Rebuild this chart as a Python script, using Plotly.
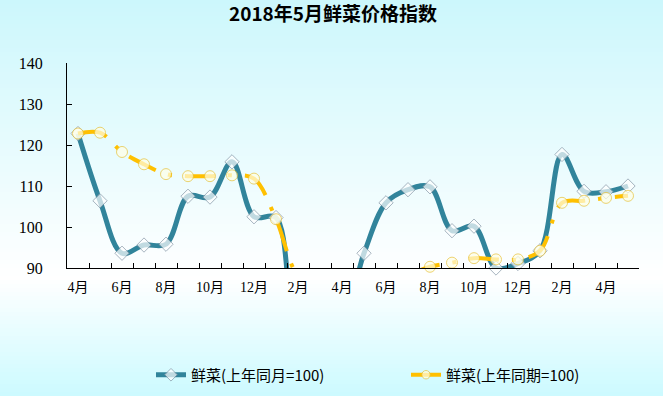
import plotly.graph_objects as go

# ---------------- data ----------------
months = ["2016-04", "2016-05", "2016-06", "2016-07", "2016-08", "2016-09", "2016-10",
          "2016-11", "2016-12", "2017-01", "2017-02", "2017-03", "2017-04", "2017-05",
          "2017-06", "2017-07", "2017-08", "2017-09", "2017-10", "2017-11", "2017-12",
          "2018-01", "2018-02", "2018-03", "2018-04", "2018-05"]
month_labels = ["4月", "5月", "6月", "7月", "8月", "9月", "10月", "11月", "12月", "1月", "2月",
                "3月", "4月", "5月", "6月", "7月", "8月", "9月", "10月", "11月", "12月", "1月",
                "2月", "3月", "4月", "5月"]
# 鲜菜(上年同月=100)
index_same_month = [122.8, 106.4, 93.6, 95.6, 95.8, 107.5, 107.3, 115.9, 102.5, 102.3, 76.0,
                    77.7, 77.5, 93.6, 105.9, 109.1, 109.8, 99.1, 100.2, 90.0, 91.1, 94.2,
                    117.7, 108.7, 108.6, 110.0]
# 鲜菜(上年同期=100)
index_same_period = [122.8, 123.0, 118.3, 115.3, 112.9, 112.4, 112.4, 112.6, 111.8, 101.9, 88.0,
                     84.5, 83.0, 84.8, 86.5, 88.3, 90.3, 91.3, 92.4, 92.1, 92.1, 94.2,
                     105.9, 106.4, 107.1, 107.6]
y_ticks = [90, 100, 110, 120, 130, 140]
y_range = [90, 140]
title_text = "2018年5月鲜菜价格指数"
name_month = "鲜菜(上年同月=100)"
name_period = "鲜菜(上年同期=100)"

# ---------------- layout constants ----------------
W, H = 663, 396
ML, MR, MT, MB = 67, 24, 63, 128
PW, PH = W - ML - MR, H - MT - MB

tick_text = [lab if i % 2 == 0 else "" for i, lab in enumerate(month_labels)]


def msize(vals, s):
    return [s if v >= y_range[0] - 0.2 else 0 for v in vals]


fig = go.Figure()
fig.add_trace(go.Scatter(
    x=months, y=index_same_month, name=name_month, mode="lines+markers",
    line=dict(color="#31849B", width=5, shape="spline", smoothing=1.0),
    marker=dict(symbol="diamond", size=msize(index_same_month, 11), color="white",
                line=dict(color="#8596A6", width=1)),
    cliponaxis=False,
))
fig.add_trace(go.Scatter(
    x=months, y=index_same_period, name=name_period, mode="lines+markers",
    line=dict(color="#FFC000", width=4, shape="spline", smoothing=1.0,
              dash="30px,13px,4px,13px"),
    marker=dict(symbol="circle", size=msize(index_same_period, 11), color="#FFFFE6",
                line=dict(color="#E9C237", width=1)),
    cliponaxis=False,
))

# background gradient (cyan -> white -> cyan), drawn as thin horizontal bands
shapes = []
N = 99
top = (204, 247, 252)
bot = (204, 250, 255)
ws = 0.70
for i in range(N):
    p0 = i * H / N
    p1 = (i + 1) * H / N + 0.6
    t = (i + 0.5) / N
    if t < ws:
        f = t / ws
        c = tuple(int(round(top[k] + (255 - top[k]) * f)) for k in range(3))
    else:
        f = (t - ws) / (1 - ws)
        c = tuple(int(round(255 + (bot[k] - 255) * f)) for k in range(3))
    shapes.append(dict(
        type="rect", xref="paper", yref="paper", layer="below",
        x0=-ML / PW, x1=(W - ML) / PW,
        y0=(MT + PH - p1) / PH, y1=(MT + PH - p0) / PH,
        fillcolor="rgb(%d,%d,%d)" % c, line=dict(width=0),
    ))

fig.update_layout(
    width=W, height=H,
    margin=dict(l=ML, r=MR, t=MT, b=MB, autoexpand=False),
    paper_bgcolor="white", plot_bgcolor="rgba(0,0,0,0)",
    shapes=shapes,
    title=dict(text="<b>" + title_text + "</b>", x=333 / W, xref="container",
               xanchor="center", y=1 - 14 / H, yanchor="middle", yref="container",
               font=dict(family="Noto Sans CJK SC", size=19, color="#000000")),
    xaxis=dict(type="category", range=[-0.5, len(months) - 0.5],
               tickmode="array", tickvals=months, ticktext=tick_text,
               tickson="boundaries", ticks="inside", ticklen=5, tickwidth=1,
               tickcolor="#000000", ticklabelstandoff=6,
               showline=True, linecolor="#000000", linewidth=1, showgrid=False,
               zeroline=False, tickangle=0,
               tickfont=dict(family="Liberation Serif, Noto Sans CJK SC", size=14,
                             color="#000")),
    yaxis=dict(range=y_range, tickmode="array", tickvals=y_ticks, ticks="inside",
               ticklen=5, tickwidth=1, tickcolor="#000000", showline=True,
               linecolor="#000000", linewidth=1,
               showgrid=False, zeroline=False, ticklabelstandoff=20,
               tickfont=dict(family="Liberation Serif", size=16, color="#000")),
    legend=dict(orientation="h", x=(151 - ML) / PW, xanchor="left",
                y=(MT + PH - 375) / PH, yanchor="middle",
                bgcolor="rgba(0,0,0,0)", entrywidth=210, entrywidthmode="pixels",
                font=dict(family="Noto Sans CJK SC", size=15, color="#000")),
    showlegend=True,
)

fig.write_html("out.html",
               config={"displayModeBar": False},
               post_script="document.body.style.margin='0px';"
                           "document.body.style.overflow='hidden';")
